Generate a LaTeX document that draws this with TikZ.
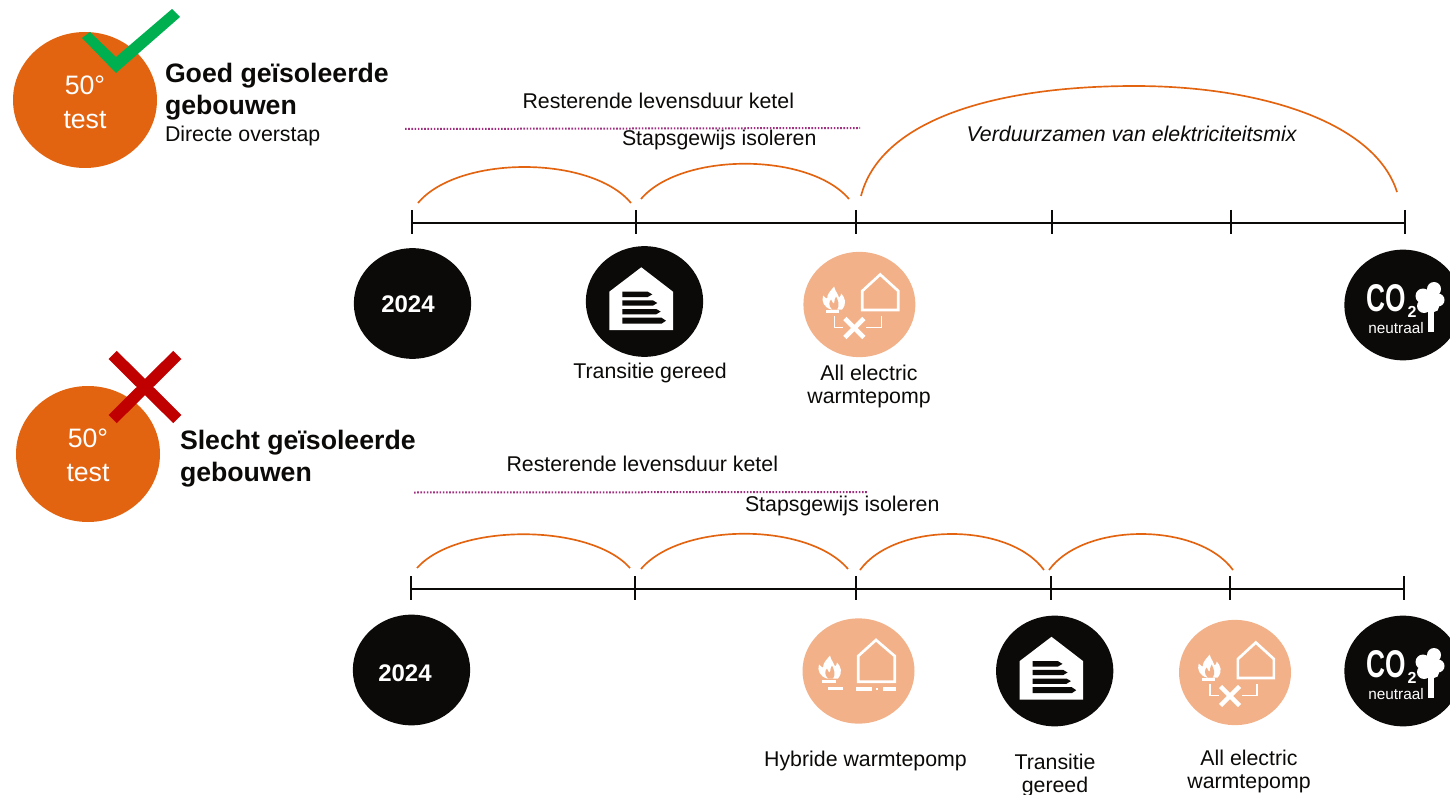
\documentclass[tikz,border=0pt]{standalone}
\usepackage{fontspec}
\usepackage{graphicx}
\setmainfont{Liberation Sans}
\usetikzlibrary{shapes.geometric}

\definecolor{discorange}{HTML}{E36410}
\definecolor{discpeach}{HTML}{F2B189}
\definecolor{discblack}{HTML}{0C0A08}
\definecolor{dotpurple}{HTML}{A0307F}
\definecolor{checkgreen}{HTML}{00B050}
\definecolor{crossred}{HTML}{C00000}

\tikzset{every picture/.style={line width=0.75pt}}
\tikzset{
  every pic/.style={yscale=-1},
  orangedisc/.style={ellipse,fill=discorange,inner sep=0pt,minimum width=108pt,minimum height=102pt},
  disctext/.style={text=white,inner sep=0pt,align=center,font=\fontsize{20}{25.5}\selectfont},
  blackdisc/.style={ellipse,fill=discblack,inner sep=0pt,minimum width=88pt,minimum height=83pt},
  yeartext/.style={text=white,inner sep=0pt,font=\bfseries\fontsize{18}{20}\selectfont},
  peachdisc/.style={ellipse,fill=discpeach,inner sep=0pt,minimum width=84pt,minimum height=79pt},
  bodytext/.style={inner sep=0.75pt,align=center,text=discblack,font=\fontsize{16}{17.3}\selectfont},
  headtext/.style={inner sep=0.75pt,align=left,text=discblack,font=\bfseries\fontsize{20}{24}\selectfont},
  axisline/.style={line width=1.1pt,discblack},
  arcline/.style={line width=1.25pt,discorange},
  dotline/.style={line width=1.5pt,dotpurple,dash pattern={on 1.2pt off 1.2pt}},
  iconline/.style={line width=2pt,white,line join=miter},
  energyhouse/.pic={
    \fill [white] (-3.2,-34.2) -- (-35.2,-9.8) -- (-35.2,28.5) -- (28.5,28.5) -- (28.5,-9.8) -- cycle ;
    \fill [discblack] (-22.2,-9.8) -- (3.3,-9.8) -- (7.8,-7.1) -- (3.3,-4.5) -- (-22.2,-4.5) -- cycle ;
    \fill [discblack] (-22.2,-1.2) -- (8.3,-1.2) -- (12.8,1.5) -- (8.3,4.2) -- (-22.2,4.2) -- cycle ;
    \fill [discblack] (-22.2,7.5) -- (11.7,7.5) -- (16.2,10.1) -- (11.7,12.8) -- (-22.2,12.8) -- cycle ;
    \fill [discblack] (-22.2,16.2) -- (17,16.2) -- (21.5,19.2) -- (17,22.2) -- (-22.2,22.2) -- cycle ;
  },
  flamepic/.pic={
    \fill [white] (-3,11) .. controls (-10,9) and (-13,3) .. (-11,-3) .. controls (-9,-1) and (-8,0) .. (-7,0) .. controls (-7,-5) and (-3,-8) .. (0,-12) .. controls (1,-7) and (4,-5) .. (5,-1) .. controls (6,-2) and (7,-3) .. (7,-5) .. controls (11,-1) and (13,5) .. (8,11) -- cycle ;
    \fill [discpeach] (-2,11) .. controls (-6,7) and (-5,3) .. (-3,1) .. controls (-2,4) and (-1,5) .. (0,5) .. controls (0,2) and (1,0) .. (2,-2) .. controls (4,2) and (6,7) .. (3,11) -- cycle ;
  },
  electricpic/.pic={
    \pic at (-25.3,-6) {flamepic};
    \draw [iconline] (20.8,-30) -- (2.9,-13.5) -- (2.9,5.5) -- (38.9,5.5) -- (38.9,-13.5) -- cycle ;
    \draw [iconline,line width=2.2pt] (-33.4,7) -- (-20,7) ;
    \draw [iconline,line width=1.2pt] (-25,11.5) -- (-25,23) -- (-16,23) ;
    \draw [iconline,line width=1.2pt] (22,11.5) -- (22,23) -- (7,23) ;
    \draw [iconline,line width=3.4pt] (-14.5,14) -- (4.5,33) ;
    \draw [iconline,line width=3.4pt] (4.5,14) -- (-14.5,33) ;
  },
  hybridpic/.pic={
    \pic at (-28.5,-3.5) {flamepic};
    \draw [iconline] (17.5,-31) -- (-0.2,-15) -- (-0.2,10.7) -- (36.2,10.7) -- (36.2,-15) -- cycle ;
    \draw [iconline,line width=2.6pt] (-36.8,10.7) -- (-22.5,10.7) ;
    \draw [iconline,line width=2.6pt] (-30.8,17.7) -- (-15.2,17.7) ;
    \draw [iconline,line width=2.6pt] (-2.8,18) -- (13.2,18) ;
    \draw [iconline,line width=1pt] (17.2,18) -- (19.8,18) ;
    \draw [iconline,line width=2.6pt] (24.8,18) -- (37.2,18) ;
  },
  neutralpic/.pic={
    \node (co) at (-16.5,-6.5) [inner sep=0pt,text=white,font=\bfseries\fontsize{29}{29}\selectfont] {\scalebox{0.68}[1]{CO}};
    \node (two) at (9,7) [inner sep=0pt,text=white,font=\bfseries\fontsize{12}{12}\selectfont] {2};
    \node (word) at (-7,23.5) [inner sep=0pt,text=white,font=\fontsize{11.5}{12}\selectfont] {neutraal};
    \fill [white] (20,-9) circle (7.5) (31,-16) circle (7) (35,-5) circle (6.5) (21,1) circle (7) (28,-7) circle (9) (31,2) circle (5) ;
    \fill [white] (24.5,3) -- (31,3) -- (31,27) -- (24.5,27) -- cycle ;
  }
}

\begin{document}
\begin{tikzpicture}[x=0.75pt,y=0.75pt,yscale=-1,xscale=1]
        \useasboundingbox (0,0) rectangle (1450,795);

        %Shape: Circle top group
        \node (topgroup) at (85,100) [orangedisc] {};
        \node (topgrouptext) at (85,102) [disctext] {50°\\test};
        %Shape: Polygon check
        \fill [checkgreen] (82,38) -- (90,32) -- (116,57) -- (172,9) -- (180,17) -- (116,73) -- cycle ;

        %Shape: Circle bottom group
        \node (lowgroup) at (88,454) [orangedisc] {};
        \node (lowgrouptext) at (88,455.5) [disctext] {50°\\test};
        %Shape: Cross
        \draw [crossred,line width=8.7pt] (112.7,355) -- (177.3,419) ;
        \draw [crossred,line width=8.7pt] (177.3,355) -- (112.7,419) ;

        % Text Node
        \draw (163.5,61.5) node (goodhead) [anchor=north west][headtext] {Goed geïsoleerde\\gebouwen};
        % Text Node
        \draw (163.5,125) node (goodsub) [anchor=north west][bodytext] {Directe overstap};
        % Text Node
        \draw (178.5,428.5) node (badhead) [anchor=north west][headtext] {Slecht geïsoleerde\\gebouwen};

        % Text Node
        \draw (521,92) node (restup) [anchor=north west][bodytext] {Resterende levensduur ketel};
        % Text Node
        \draw (620.5,129) node (isolup) [anchor=north west][bodytext] {Stapsgewijs isoleren};
        % Text Node
        \draw (965,125) node (mixup) [anchor=north west][bodytext] {\itshape Verduurzamen van elektriciteitsmix};
        % Text Node
        \draw (505,455) node (restlow) [anchor=north west][bodytext] {Resterende levensduur ketel};
        % Text Node
        \draw (743.5,495) node (isollow) [anchor=north west][bodytext] {Stapsgewijs isoleren};

        %Shape: dotted lines
        \coordinate (dotupa) at (405,129);
        \coordinate (dotupb) at (860,128);
        \coordinate (dotlowa) at (414,492.5);
        \coordinate (dotlowb) at (868,492);
        \draw [dotline] (dotupa) -- (dotupb) ;
        \draw [dotline] (dotlowa) -- (dotlowb) ;

        %Shape: upper time line
        \coordinate (upa) at (412,223);
        \coordinate (upb) at (636,223);
        \coordinate (upc) at (856,223);
        \coordinate (upd) at (1052,223);
        \coordinate (upe) at (1231,223);
        \coordinate (upf) at (1405,223);
        \draw [axisline] (upa) -- (upf) ;
        \foreach \tick in {upa,upb,upc,upd,upe,upf} {
          \draw [axisline] (\tick) ++(0,-13) -- ++(0,24) ;
        }

        %Shape: lower time line
        \coordinate (lowa) at (411,589);
        \coordinate (lowb) at (635,589);
        \coordinate (lowc) at (856,589);
        \coordinate (lowd) at (1051,589);
        \coordinate (lowe) at (1230,589);
        \coordinate (lowf) at (1404,589);
        \draw [axisline] (lowa) -- (lowf) ;
        \foreach \tick in {lowa,lowb,lowc,lowd,lowe,lowf} {
          \draw [axisline] (\tick) ++(0,-13) -- ++(0,24) ;
        }

        %Shape: upper arcs
        \coordinate (arcupa) at (418,203);
        \coordinate (arcupb) at (631,203);
        \coordinate (arcupc) at (641,199);
        \coordinate (arcupd) at (849,199);
        \coordinate (arcupe) at (861,196);
        \coordinate (arcupm) at (1135,86);
        \coordinate (arcupf) at (1397,192);
        \draw [arcline] (arcupa) .. controls +(40,-48) and +(-40,-48) .. (arcupb) ;
        \draw [arcline] (arcupc) .. controls +(40,-47) and +(-40,-47) .. (arcupd) ;
        \draw [arcline] (arcupe) .. controls +(19,-74) and +(-145,0) .. (arcupm) .. controls +(125,0) and +(-22,-70) .. (arcupf) ;

        %Shape: lower arcs
        \coordinate (arclowa) at (417,568);
        \coordinate (arclowb) at (630,568);
        \coordinate (arclowc) at (641,569);
        \coordinate (arclowd) at (848,569);
        \coordinate (arclowe) at (860,570);
        \coordinate (arclowf) at (1044,570);
        \coordinate (arclowg) at (1049,570);
        \coordinate (arclowh) at (1233,570);
        \draw [arcline] (arclowa) .. controls +(40,-45) and +(-40,-45) .. (arclowb) ;
        \draw [arcline] (arclowc) .. controls +(40,-47) and +(-40,-47) .. (arclowd) ;
        \draw [arcline] (arclowe) .. controls +(35,-48) and +(-35,-48) .. (arclowf) ;
        \draw [arcline] (arclowg) .. controls +(35,-48) and +(-35,-48) .. (arclowh) ;

        %Shape: upper discs
        \node (yearup) at (412.5,303.5) [blackdisc] {};
        \node (yearuptext) at (408,304.5) [yeartext] {2024};
        \node (energyup) at (644.5,301.5) [blackdisc] {};
        \pic at (energyup.center) {energyhouse};
        \node (electricup) at (859.4,304.5) [peachdisc] {};
        \pic at (electricup.center) {electricpic};
        \node (neutralup) at (1403,305) [blackdisc] {};
        \pic (neutup) at (neutralup.center) {neutralpic};

        %Shape: lower discs
        \node (yearlow) at (411.5,670) [blackdisc] {};
        \node (yearlowtext) at (405,673.5) [yeartext] {2024};
        \node (hybridlow) at (858.5,671) [peachdisc] {};
        \pic at (hybridlow.center) {hybridpic};
        \node (energylow) at (1054.7,671) [blackdisc] {};
        \pic at (energylow.center) {energyhouse};
        \node (electriclow) at (1235,672.5) [peachdisc] {};
        \pic at (electriclow.center) {electricpic};
        \node (neutrallow) at (1403,671) [blackdisc] {};
        \pic (neutlow) at (neutrallow.center) {neutralpic};

        % Text Node
        \draw (650,373) node (labenergyup) [bodytext] {Transitie gereed};
        % Text Node
        \draw (869,386.5) node (labelectricup) [bodytext] {All electric\\warmtepomp};
        % Text Node
        \draw (865.5,761) node (labhybrid) [bodytext] {Hybride warmtepomp};
        % Text Node
        \draw (1055,775.5) node (labenergylow) [bodytext] {Transitie\\gereed};
        % Text Node
        \draw (1249,771.5) node (labelectriclow) [bodytext] {All electric\\warmtepomp};

    \end{tikzpicture}
\end{document}
